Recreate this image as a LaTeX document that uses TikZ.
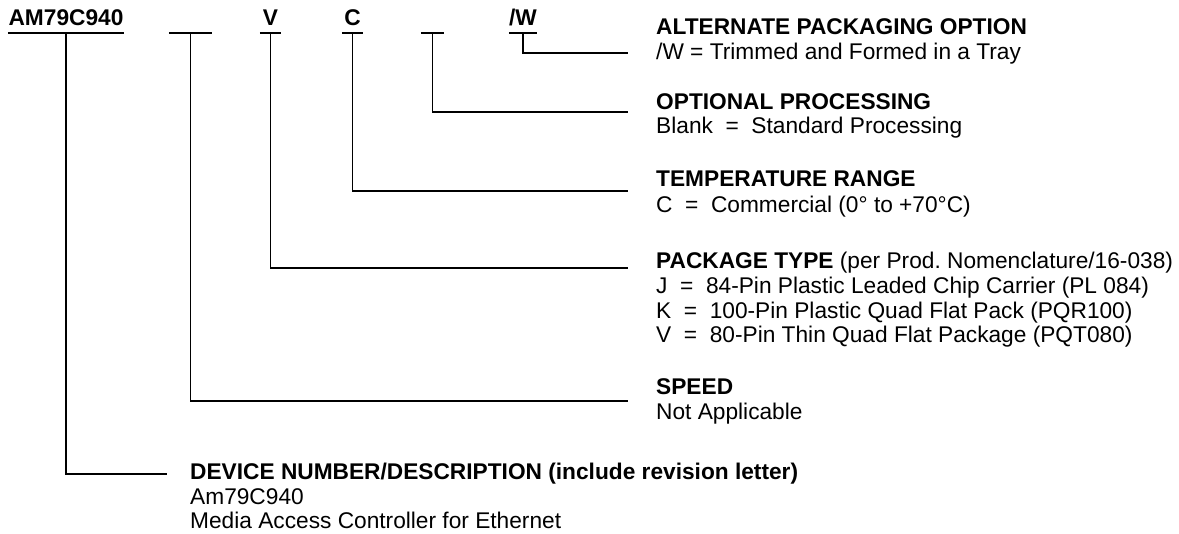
\documentclass[tikz,border=0pt]{standalone}
\usepackage{fontspec}
\setmainfont{Liberation Sans}
\usepackage{tikz}
\usetikzlibrary{calc}
\frenchspacing

\tikzset{
  txt/.style={font=\fontsize{22.7}{25}\selectfont,inner sep=0pt,anchor=base west},
  hd/.style={txt,font=\bfseries\fontsize{22.7}{25}\selectfont},
  fld/.style={hd,anchor=base,text depth=0pt,inner ysep=7pt,minimum width=#1},
  lead/.style={line width=1.6pt}
}

\begin{document}
\begin{tikzpicture}[x=1pt,y=-1pt]
\useasboundingbox (0,0) rectangle (1179,534);
% fields of the part number
\node[fld=116pt] (dev) at (66,26) {AM79C940};
\node[fld=43pt] (spd) at (190.5,26) {};
\node[fld=21pt] (pkg) at (270.5,26) {V};
\node[fld=21pt] (tmp) at (352.5,26) {C};
\node[fld=23pt] (opt) at (432.5,26) {};
\node[fld=26pt] (alt) at (523,26) {/W};
\foreach \f in {dev,spd,pkg,tmp,opt,alt}
  \draw[lead] (\f.south west) -- (\f.south east);
% descriptions
\node[hd] (altH) at (656,35) {ALTERNATE PACKAGING OPTION};
\node[txt] (altA) at (656,60) {/W = Trimmed and Formed in a Tray};
\node[hd] (optH) at (656,110) {OPTIONAL PROCESSING};
\node[txt] (optA) at (656,134) {Blank\ \ =\ \ Standard Processing};
\node[hd] (tmpH) at (656,187) {TEMPERATURE RANGE};
\node[txt] (tmpA) at (656,213) {C\ \ =\ \ Commercial (0° to +70°C)};
\node[hd] (pkgH) at (656,269) {PACKAGE TYPE \mdseries(per Prod. Nomenclature/16-038)};
\node[txt] (pkgA) at (656,294) {J\ \ =\ \ 84-Pin Plastic Leaded Chip Carrier (PL 084)};
\node[txt] (pkgB) at (656,319) {K\ \ =\ \ 100-Pin Plastic Quad Flat Pack (PQR100)};
\node[txt] (pkgC) at (656,343) {V\ \ =\ \ 80-Pin Thin Quad Flat Package (PQT080)};
\node[hd] (spdH) at (656,395) {SPEED};
\node[txt] (spdA) at (656,420) {Not Applicable};
\node[hd] (devH) at (190,480) {DEVICE NUMBER/DESCRIPTION (include revision letter)};
\node[txt] (devA) at (190,505) {Am79C940};
\node[txt] (devB) at (190,529) {Media Access Controller for Ethernet};
% leaders
\coordinate (altL) at (628,53);
\coordinate (optL) at (628,112);
\coordinate (tmpL) at (628,191);
\coordinate (pkgL) at (628,268);
\coordinate (spdL) at (628,401);
\coordinate (devL) at (167,474);
\foreach \f in {alt,opt,tmp,pkg,spd,dev}
  \draw[lead] (\f.south) |- (\f L);
\end{tikzpicture}
\end{document}
